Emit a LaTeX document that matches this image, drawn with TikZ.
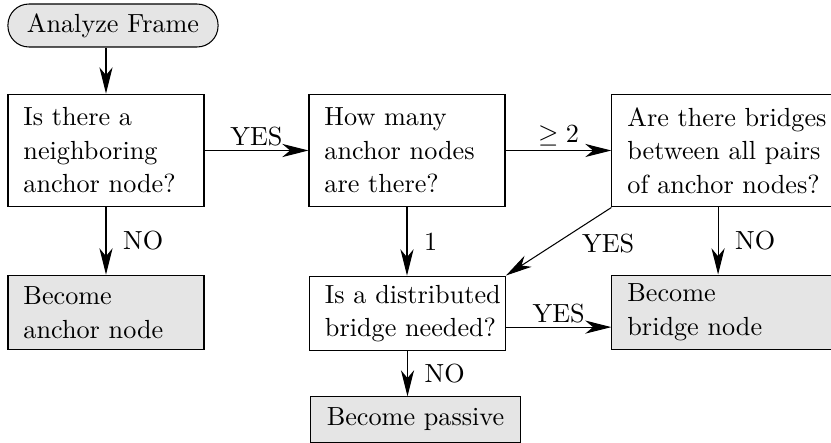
\documentclass[tikz,border=0pt]{standalone}
\usetikzlibrary{arrows.meta}
\begin{document}
\begin{tikzpicture}[x=.3817pt,y=-.3817pt,font=\fontsize{10}{12.8}\selectfont,
  ask/.style={draw,align=left,text width=63pt,inner xsep=5.9pt,minimum height=43.1pt},
  act/.style={ask,fill=black!10,minimum height=28.6pt},
  link/.style={-{Stealth[length=10pt,width=5pt,inset=3pt]}},
  lbl/.style={inner sep=1.5pt}]
\useasboundingbox (0,0) rectangle (831,443);

\node[draw,fill=black!10,rounded corners=8pt,minimum width=80.2pt,minimum height=16.4pt] (start) at (113,25.5) {Analyze Frame};
\node[ask] (neighbor) at (106,150.5) {Is there a\\neighboring\\anchor node?};
\node[ask] (count) at (407,150.5) {How many\\anchor nodes\\are there?};
\node[ask,text width=78pt] (pairs) at (729.6,150.5) {Are there bridges\\between all pairs\\of anchor nodes?};
\node[act] (anchor) at (106,312.5) {Become\\anchor node};
\node[ask,minimum height=28.6pt] (needed) at (407.5,313.5) {\mbox{Is a distributed}\\\mbox{bridge needed?}};
\node[act,text width=78pt] (bridge) at (729.6,312.5) {Become\\bridge node};
\node[draw,fill=black!10,minimum width=80.5pt,minimum height=17.2pt] (passive) at (415.5,419.5) {Become passive};

\draw[link] (start.south -| neighbor.north) -- (neighbor.north);
\draw[link] (neighbor) -- node[above,lbl] {YES} (count);
\draw[link] (count) -- node[above,lbl] {$\geq 2$} (pairs);
\draw[link] (neighbor.south) -- node[right=3pt] {NO} (neighbor.south |- anchor.north);
\draw[link] (count.south) -- node[right=3pt] {1} (count.south |- needed.north);
\draw[link] (pairs.south west) -- node[pos=.32,below right,lbl] {YES} (needed.north east);
\draw[link] ([xshift=-4.4pt]pairs.south) -- node[right=3pt] {NO} ([xshift=-4.4pt]pairs.south |- bridge.north);
\draw[link] ([yshift=-5.2pt]needed.east) -- node[above,lbl] {YES} ([yshift=-5.2pt]needed.east -| bridge.west);
\draw[link] (needed.south) -- node[right=3pt] {NO} (needed.south |- passive.north);
\end{tikzpicture}
\end{document}
